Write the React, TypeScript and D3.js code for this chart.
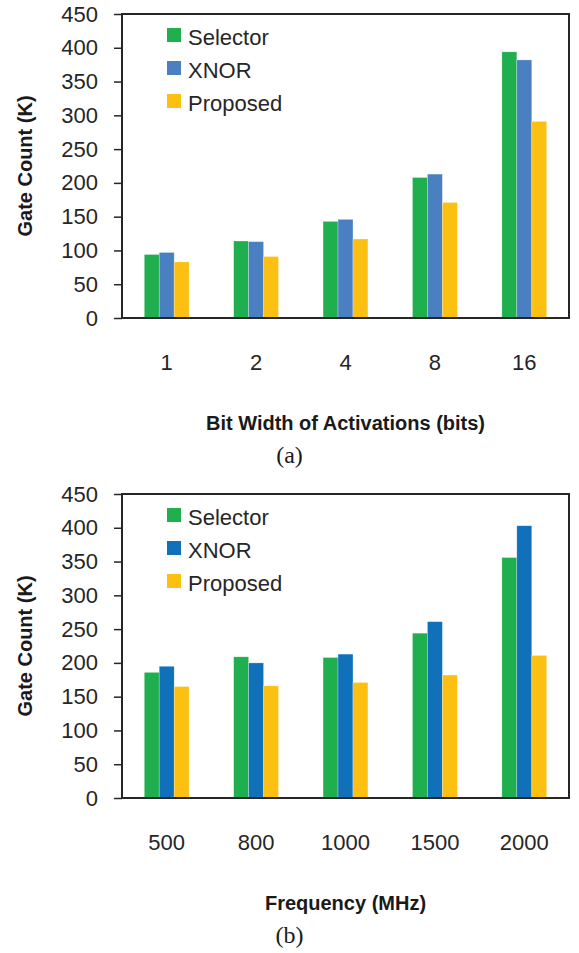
import { useEffect, useRef } from 'react'
import * as d3 from 'd3'

// panel (a): gate count vs. bit width of activations
const bitCategories = ['1', '2', '4', '8', '16']
const bitSelector = [94, 114, 143, 208, 394]
const bitXnor = [97, 113, 146, 213, 382]
const bitProposed = [83, 91, 117, 171, 291]

// panel (b): gate count vs. frequency
const freqCategories = ['500', '800', '1000', '1500', '2000']
const freqSelector = [186, 209, 208, 244, 356]
const freqXnor = [195, 200, 213, 261, 403]
const freqProposed = [165, 166, 171, 182, 211]

const seriesNames = ['Selector', 'XNOR', 'Proposed']
const yTicks = [0, 50, 100, 150, 200, 250, 300, 350, 400, 450]

const GREEN = '#1faf4f'
const YELLOW = '#fcc012'
const TEXT = '#262626'
const SANS = '"Liberation Sans", Arial, sans-serif'

interface PanelOpts {
  top: number
  categories: string[]
  series: number[][]
  colors: string[]
  xLabel: string
  caption: string
}

function drawPanel(svg: d3.Selection<SVGSVGElement, unknown, null, undefined>, o: PanelOpts) {
  const left = 122
  const right = 569
  const plotTop = o.top
  const plotBottom = o.top + 304

  const g = svg.append('g')

  const x = d3.scaleBand<string>().domain(o.categories).range([left, right])
  // three bars of ~15px centred in each category slot
  const inner = d3.scaleBand<number>()
    .domain(d3.range(o.series.length))
    .range([0, x.bandwidth()])
    .paddingInner(0)
    .paddingOuter(1.49)
  const y = d3.scaleLinear().domain([0, 450]).range([plotBottom, plotTop])

  // bars
  o.series.forEach((vals, si) => {
    g.append('g')
      .selectAll('rect')
      .data(vals)
      .join('rect')
      .attr('x', (_, i) => (x(o.categories[i]) || 0) + (inner(si) || 0))
      .attr('y', d => y(d))
      .attr('width', inner.bandwidth())
      .attr('height', d => y(0) - y(d))
      .attr('fill', o.colors[si])
      .attr('stroke', '#ffffff')
      .attr('stroke-opacity', 0.45)
      .attr('stroke-width', 0.6)
  })

  // y axis with outside ticks
  const yAxis = d3.axisLeft(y).tickValues(yTicks).tickSize(8).tickPadding(16)
  const ya = g.append('g').attr('transform', `translate(${left},0)`).call(yAxis)
  ya.select('.domain').remove()
  ya.selectAll('line').attr('stroke', TEXT).attr('stroke-width', 1.5)
  ya.selectAll('text')
    .attr('fill', TEXT)
    .style('font-family', SANS)
    .style('font-size', '22px')

  // plot frame
  g.append('rect')
    .attr('x', left)
    .attr('y', plotTop)
    .attr('width', right - left)
    .attr('height', plotBottom - plotTop)
    .attr('fill', 'none')
    .attr('stroke', TEXT)
    .attr('stroke-width', 2)

  // x tick labels (no tick marks)
  g.append('g')
    .selectAll('text')
    .data(o.categories)
    .join('text')
    .attr('x', d => (x(d) || 0) + x.bandwidth() / 2)
    .attr('y', plotBottom + 52)
    .attr('text-anchor', 'middle')
    .attr('fill', TEXT)
    .style('font-family', SANS)
    .style('font-size', '22px')
    .text(d => d)

  // axis titles
  g.append('text')
    .attr('x', (left + right) / 2)
    .attr('y', plotBottom + 112)
    .attr('text-anchor', 'middle')
    .attr('fill', '#1a1a1a')
    .style('font-family', SANS)
    .style('font-size', '20px')
    .style('font-weight', 'bold')
    .text(o.xLabel)

  g.append('text')
    .attr('transform', `translate(32,${(plotTop + plotBottom) / 2}) rotate(-90)`)
    .attr('text-anchor', 'middle')
    .attr('fill', '#1a1a1a')
    .style('font-family', SANS)
    .style('font-size', '20px')
    .style('font-weight', 'bold')
    .text('Gate Count (K)')

  // legend
  const lg = g.append('g').attr('transform', `translate(167,${plotTop + 14})`)
  seriesNames.forEach((name, i) => {
    lg.append('rect')
      .attr('x', 0)
      .attr('y', i * 33)
      .attr('width', 14)
      .attr('height', 14)
      .attr('fill', o.colors[i])
    lg.append('text')
      .attr('x', 21)
      .attr('y', i * 33 + 17)
      .attr('fill', TEXT)
      .style('font-family', SANS)
      .style('font-size', '22px')
      .text(name)
  })

  // caption
  g.append('text')
    .attr('x', 289.5)
    .attr('y', plotBottom + 145)
    .attr('text-anchor', 'middle')
    .attr('fill', '#1a1a1a')
    .style('font-family', '"Liberation Serif", "Times New Roman", serif')
    .style('font-size', '24px')
    .text(o.caption)
}

export default function App() {
  const svgRef = useRef<SVGSVGElement>(null)

  useEffect(() => {
    if (!svgRef.current) return
    const svg = d3.select(svgRef.current)
    svg.selectAll('*').remove()

    drawPanel(svg, {
      top: 14,
      categories: bitCategories,
      series: [bitSelector, bitXnor, bitProposed],
      colors: [GREEN, '#4a80c1', YELLOW],
      xLabel: 'Bit Width of Activations (bits)',
      caption: '(a)',
    })

    drawPanel(svg, {
      top: 494,
      categories: freqCategories,
      series: [freqSelector, freqXnor, freqProposed],
      colors: [GREEN, '#1170ba', YELLOW],
      xLabel: 'Frequency (MHz)',
      caption: '(b)',
    })
  }, [])

  return (
    <div style={{ position: 'absolute', left: 0, top: 0 }}>
      <svg ref={svgRef} width={579} height={953} style={{ display: 'block', background: '#fff' }} />
    </div>
  )
}
